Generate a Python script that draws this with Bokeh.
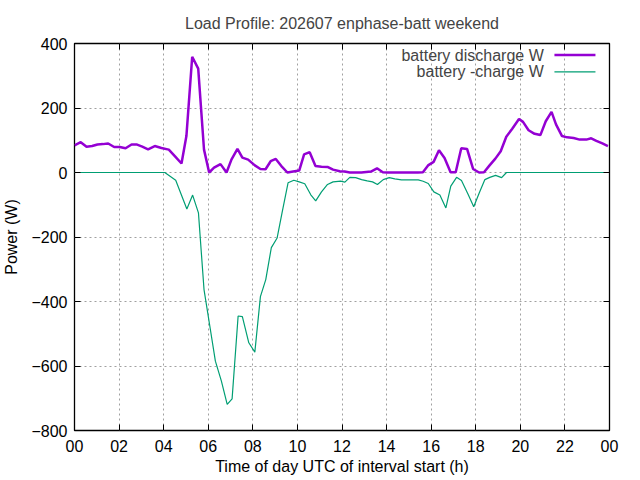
from bokeh.plotting import figure
from bokeh.models import FixedTicker, LinearAxis, Label, Arrow, Range1d
from bokeh.embed import file_html
from bokeh.resources import INLINE

# battery discharge (W)
dis_hours = [0.00, 0.28, 0.54, 0.79, 1.03, 1.27, 1.51, 1.78, 2.03, 2.29,
             2.56, 2.78, 3.04, 3.30, 3.60, 3.90, 4.23, 4.50, 4.80, 5.02,
             5.28, 5.55, 5.81, 6.04, 6.26, 6.55, 6.82, 7.04, 7.31, 7.53,
             7.79, 8.09, 8.34, 8.57, 8.80, 9.03, 9.28, 9.55, 9.81, 10.08,
             10.30, 10.55, 10.81, 11.08, 11.37, 11.60, 11.90, 12.12, 12.35, 12.87,
             13.30, 13.57, 13.83, 14.05, 15.40, 15.63, 15.86, 16.11, 16.35, 16.60,
             16.87, 17.10, 17.35, 17.61, 17.88, 18.15, 18.37, 18.62, 18.88, 19.12,
             19.37, 19.63, 19.94, 20.12, 20.37, 20.64, 20.90, 21.14, 21.40, 21.60,
             21.87, 22.10, 22.39, 22.66, 22.96, 23.18, 23.41, 23.68, 23.93]
dis_watts = [84, 94, 80, 82, 87, 88, 90, 79, 79, 75,
             87, 87, 80, 72, 82, 76, 71, 51, 28, 113,
             359, 322, 71, 0, 15, 26, 0, 40, 73, 46,
             40, 22, 11, 10, 35, 42, 20, 0, 3, 6,
             56, 63, 20, 18, 17, 9, 4, 3, 0, 0,
             3, 13, 1, 0, 0, 1, 22, 33, 69, 45,
             1, 1, 75, 73, 11, 0, 1, 22, 43, 66,
             111, 135, 166, 157, 131, 120, 116, 159, 188, 149,
             113, 109, 107, 102, 102, 106, 98, 90, 82]

# battery -charge (W)
chg_hours = [0.00, 4.05, 4.54, 5.04, 5.30, 5.56, 5.81, 6.07, 6.32, 6.59,
             6.85, 7.07, 7.34, 7.53, 7.82, 8.09, 8.34, 8.58, 8.83, 9.09,
             9.31, 9.58, 9.84, 10.08, 10.33, 10.60, 10.82, 11.08, 11.35, 11.60,
             11.94, 12.13, 12.35, 12.61, 12.88, 13.13, 13.37, 13.59, 13.85, 14.12,
             14.37, 14.67, 15.42, 15.64, 15.87, 16.12, 16.39, 16.66, 16.88, 17.14,
             17.36, 17.66, 17.91, 18.16, 18.41, 18.63, 18.89, 19.16, 19.38, 23.93]
chg_watts = [0, 0, -24, -113, -70, -125, -363, -476, -585, -647,
             -719, -702, -445, -447, -528, -557, -385, -332, -233, -203,
             -125, -32, -24, -29, -35, -69, -88, -60, -37, -29,
             -27, -30, -15, -16, -22, -26, -29, -37, -22, -16,
             -20, -23, -23, -27, -34, -60, -70, -110, -42, -15,
             -25, -68, -106, -63, -22, -15, -9, -16, 0, 0]

x_ticks = list(range(0, 25, 2))
x_tick_labels = ["00", "02", "04", "06", "08", "10", "12", "14", "16", "18", "20", "22", "00"]
y_ticks = [-800, -600, -400, -200, 0, 200, 400]

series_names = ["battery discharge W", "battery -charge W"]
series_colors = ["#9400d3", "#009e73"]

FONT = "Liberation Sans"
FS = "16px"

p = figure(frame_width=535, frame_height=387, output_backend="svg",
           toolbar_location=None, title="Load Profile: 202607 enphase-batt weekend",
           x_range=Range1d(0, 24), y_range=Range1d(-800, 400),
           min_border_left=65, min_border_right=24, min_border_top=0, min_border_bottom=20)
p.background_fill_color = "white"
p.border_fill_color = "white"
p.outline_line_color = "black"
p.outline_line_width = 1.3

p.title.align = "center"
p.title.text_font = FONT
p.title.text_font_size = FS
p.title.text_font_style = "normal"
p.title.standoff = 24

p.line(dis_hours, dis_watts, line_color=series_colors[0], line_width=2.5)
p.line(chg_hours, chg_watts, line_color=series_colors[1], line_width=1.2)

for ax in (p.xaxis[0], p.yaxis[0]):
    ax.major_tick_in = 6
    ax.major_tick_out = 0
    ax.minor_tick_line_color = None
    ax.axis_line_color = None
    ax.major_label_text_font = FONT
    ax.major_label_text_font_size = FS
    ax.major_label_text_color = "black"
    ax.axis_label_text_font = FONT
    ax.axis_label_text_font_size = FS
    ax.axis_label_text_font_style = "normal"
    ax.axis_label_text_color = "black"

p.xaxis.ticker = FixedTicker(ticks=x_ticks)
p.xaxis.major_label_overrides = {t: s for t, s in zip(x_ticks, x_tick_labels)}
p.xaxis.axis_label = "Time of day UTC of interval start (h)"
p.xaxis.major_label_standoff = 9
p.xaxis.axis_label_standoff = 3

p.yaxis.ticker = FixedTicker(ticks=y_ticks)
p.yaxis.axis_label = "Power (W)"
p.yaxis.major_label_standoff = 7
p.yaxis.axis_label_standoff = 8

# mirrored ticks on top and right, no labels
for side, ticks in (("above", x_ticks), ("right", y_ticks)):
    ax = LinearAxis(ticker=FixedTicker(ticks=ticks))
    ax.major_tick_in = 6
    ax.major_tick_out = 0
    ax.minor_tick_line_color = None
    ax.axis_line_color = None
    ax.major_label_overrides = {t: "" for t in ticks}
    ax.major_label_standoff = 0
    p.add_layout(ax, side)

for g in (p.xgrid[0], p.ygrid[0]):
    g.grid_line_color = "#a0a0a0"
    g.grid_line_dash = "2 3"
    g.grid_line_width = 1
p.xgrid.ticker = FixedTicker(ticks=x_ticks)
p.ygrid.ticker = FixedTicker(ticks=y_ticks)

# gnuplot-style key: text right-aligned, sample line to its right
key_text_x = 21.05
key_line = (21.53, 23.37)
key_rows = [364, 312]
for name, color, yk, lw in zip(series_names, series_colors, key_rows, [2.5, 1.2]):
    p.add_layout(Label(x=key_text_x, y=yk, text=name, text_align="right",
                       text_baseline="middle", text_font=FONT, text_font_size=FS))
    p.add_layout(Arrow(end=None, x_start=key_line[0], y_start=yk,
                       x_end=key_line[1], y_end=yk,
                       line_color=color, line_width=lw))

open("out.html", "w").write(file_html(p, INLINE))
